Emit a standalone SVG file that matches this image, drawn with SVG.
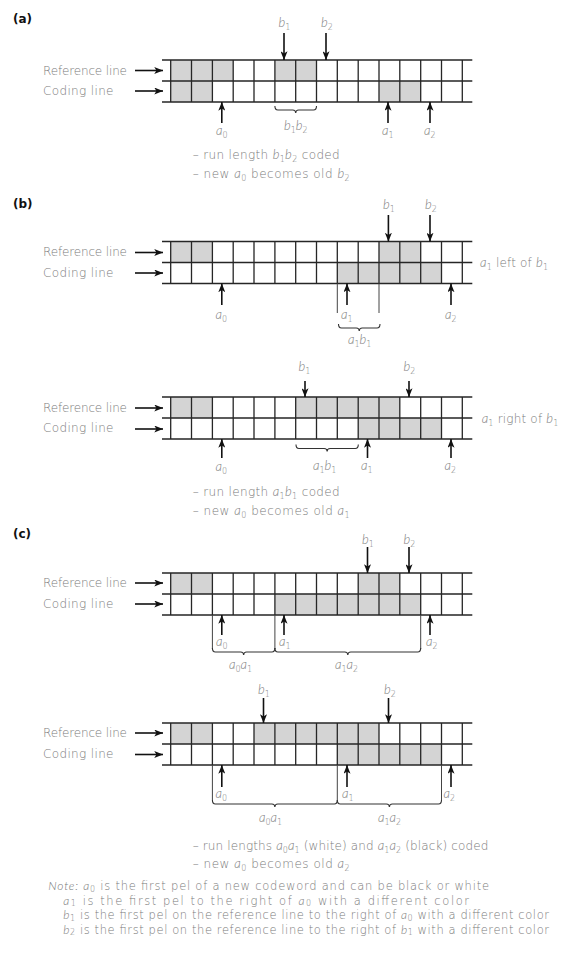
<svg xmlns="http://www.w3.org/2000/svg" xmlns:xlink="http://www.w3.org/1999/xlink" width="566" height="958" viewBox="0 0 566 958">
<style>
.t{font-family:"DejaVu Sans",Lato,"Open Sans",sans-serif;font-weight:200;font-size:12px;fill:#7a7a7a}
.n{font-size:11.5px}
.v{font-family:Lato,"DejaVu Sans",sans-serif;font-style:italic;font-weight:300;font-size:13px}
.n .v{font-size:12px}
.s{font-size:8px}
.h{font-family:"DejaVu Sans","Liberation Sans",sans-serif;font-weight:700;font-size:12px;fill:#111}
.g{fill:#d4d4d4}
.gl{fill:none;stroke:#262626;stroke-width:1.3}
.ar{stroke:#111;stroke-width:1.6;fill:none;marker-end:url(#ah)}
.br{fill:none;stroke:#333;stroke-width:1.1}
.vl{stroke:#444;stroke-width:1}
</style>
<defs>
<marker id="ah" viewBox="0 0 10 8" refX="10" refY="4" markerWidth="9" markerHeight="7" orient="auto" markerUnits="userSpaceOnUse">
<path d="M0,0 L10,4 L0,8 L2.5,4 z" fill="#111"/>
</marker>
<g id="grid">
<path class="gl" d="M162,0H472.3M162,21H472.3M162,42H472.3M170.7,0V42M191.5,0V42M212.4,0V42M233.2,0V42M254,0V42M274.9,0V42M295.7,0V42M316.5,0V42M337.3,0V42M358.2,0V42M379,0V42M399.8,0V42M420.7,0V42M441.5,0V42M462.3,0V42"/>
</g>
</defs>
<rect width="566" height="958" fill="#fff"/>

<!-- ===== (a) ===== -->
<g id="panel-a">
<text class="h" x="13" y="23">(a)</text>
<text class="t" x="43" y="74.5" textLength="84">Reference line</text>
<text class="t" x="43" y="95" textLength="70.5">Coding line</text>
<g transform="translate(0,60)">
<rect class="g" x="170.7" y="0" width="62.5" height="21"/>
<rect class="g" x="274.9" y="0" width="41.6" height="21"/>
<rect class="g" x="170.7" y="21" width="41.7" height="21"/>
<rect class="g" x="379" y="21" width="41.7" height="21"/>
<use xlink:href="#grid"/>
</g>
<text class="t" x="278.5" y="27"><tspan class="v">b</tspan><tspan class="s" dy="3">1</tspan></text>
<text class="t" x="321" y="27"><tspan class="v">b</tspan><tspan class="s" dy="3">2</tspan></text>
<text class="t" x="216" y="135"><tspan class="v">a</tspan><tspan class="s" dy="3">0</tspan></text>
<text class="t" x="382" y="135"><tspan class="v">a</tspan><tspan class="s" dy="3">1</tspan></text>
<text class="t" x="424" y="135"><tspan class="v">a</tspan><tspan class="s" dy="3">2</tspan></text>
<text class="t" x="284" y="130"><tspan class="v">b</tspan><tspan class="s" dy="3">1</tspan><tspan class="v" dy="-3">b</tspan><tspan class="s" dy="3">2</tspan></text>
<text class="t" x="192.7" y="159" textLength="147">– run length <tspan class="v">b</tspan><tspan class="s" dy="3">1</tspan><tspan class="v" dy="-3">b</tspan><tspan class="s" dy="3">2</tspan><tspan dy="-3"> coded</tspan></text>
<text class="t" x="192.7" y="178" textLength="157">– new <tspan class="v">a</tspan><tspan class="s" dy="3">0</tspan><tspan dy="-3"> becomes old </tspan><tspan class="v">b</tspan><tspan class="s" dy="3">2</tspan></text>
</g>

<!-- ===== (b) left ===== -->
<g id="panel-b1">
<text class="h" x="13" y="208">(b)</text>
<text class="t" x="43" y="256" textLength="84">Reference line</text>
<text class="t" x="43" y="276.5" textLength="70.5">Coding line</text>
<g transform="translate(0,241.5)">
<rect class="g" x="170.7" y="0" width="41.7" height="21"/>
<rect class="g" x="379" y="0" width="41.7" height="21"/>
<rect class="g" x="337.3" y="21" width="104.2" height="21"/>
<use xlink:href="#grid"/>
</g>
<text class="t" x="383" y="209"><tspan class="v">b</tspan><tspan class="s" dy="3">1</tspan></text>
<text class="t" x="425" y="209"><tspan class="v">b</tspan><tspan class="s" dy="3">2</tspan></text>
<text class="t" x="480" y="267" textLength="68"><tspan class="v">a</tspan><tspan class="s" dy="3">1</tspan><tspan dy="-3"> left of </tspan><tspan class="v">b</tspan><tspan class="s" dy="3">1</tspan></text>
<text class="t" x="215.5" y="319"><tspan class="v">a</tspan><tspan class="s" dy="3">0</tspan></text>
<text class="t" x="341" y="319"><tspan class="v">a</tspan><tspan class="s" dy="3">1</tspan></text>
<text class="t" x="445" y="319"><tspan class="v">a</tspan><tspan class="s" dy="3">2</tspan></text>
<text class="t" x="348" y="344"><tspan class="v">a</tspan><tspan class="s" dy="3">1</tspan><tspan class="v" dy="-3">b</tspan><tspan class="s" dy="3">1</tspan></text>
</g>

<!-- ===== (b) right ===== -->
<g id="panel-b2">
<text class="t" x="43" y="411.5" textLength="84">Reference line</text>
<text class="t" x="43" y="432" textLength="70.5">Coding line</text>
<g transform="translate(0,397)">
<rect class="g" x="170.7" y="0" width="41.7" height="21"/>
<rect class="g" x="295.7" y="0" width="104.1" height="21"/>
<rect class="g" x="358.2" y="21" width="83.3" height="21"/>
<use xlink:href="#grid"/>
</g>
<text class="t" x="298.5" y="371"><tspan class="v">b</tspan><tspan class="s" dy="3">1</tspan></text>
<text class="t" x="403.5" y="371"><tspan class="v">b</tspan><tspan class="s" dy="3">2</tspan></text>
<text class="t" x="481.7" y="423" textLength="76.6"><tspan class="v">a</tspan><tspan class="s" dy="3">1</tspan><tspan dy="-3"> right of </tspan><tspan class="v">b</tspan><tspan class="s" dy="3">1</tspan></text>
<text class="t" x="215.5" y="471"><tspan class="v">a</tspan><tspan class="s" dy="3">0</tspan></text>
<text class="t" x="361" y="470"><tspan class="v">a</tspan><tspan class="s" dy="3">1</tspan></text>
<text class="t" x="444.5" y="470"><tspan class="v">a</tspan><tspan class="s" dy="3">2</tspan></text>
<text class="t" x="313" y="470"><tspan class="v">a</tspan><tspan class="s" dy="3">1</tspan><tspan class="v" dy="-3">b</tspan><tspan class="s" dy="3">1</tspan></text>
<text class="t" x="192.7" y="496" textLength="147">– run length <tspan class="v">a</tspan><tspan class="s" dy="3">1</tspan><tspan class="v" dy="-3">b</tspan><tspan class="s" dy="3">1</tspan><tspan dy="-3"> coded</tspan></text>
<text class="t" x="192.7" y="515" textLength="157">– new <tspan class="v">a</tspan><tspan class="s" dy="3">0</tspan><tspan dy="-3"> becomes old </tspan><tspan class="v">a</tspan><tspan class="s" dy="3">1</tspan></text>
</g>

<!-- ===== (c) upper ===== -->
<g id="panel-c1">
<text class="h" x="13" y="538">(c)</text>
<text class="t" x="43" y="587" textLength="84">Reference line</text>
<text class="t" x="43" y="607.5" textLength="70.5">Coding line</text>
<g transform="translate(0,573)">
<rect class="g" x="170.7" y="0" width="41.7" height="21"/>
<rect class="g" x="358.2" y="0" width="41.6" height="21"/>
<rect class="g" x="274.9" y="21" width="145.8" height="21"/>
<use xlink:href="#grid"/>
</g>
<text class="t" x="362" y="544"><tspan class="v">b</tspan><tspan class="s" dy="3">1</tspan></text>
<text class="t" x="403.5" y="544"><tspan class="v">b</tspan><tspan class="s" dy="3">2</tspan></text>
<text class="t" x="216" y="646"><tspan class="v">a</tspan><tspan class="s" dy="3">0</tspan></text>
<text class="t" x="279" y="646"><tspan class="v">a</tspan><tspan class="s" dy="3">1</tspan></text>
<text class="t" x="426" y="646"><tspan class="v">a</tspan><tspan class="s" dy="3">2</tspan></text>
<text class="t" x="229" y="669"><tspan class="v">a</tspan><tspan class="s" dy="3">0</tspan><tspan class="v" dy="-3">a</tspan><tspan class="s" dy="3">1</tspan></text>
<text class="t" x="335" y="669"><tspan class="v">a</tspan><tspan class="s" dy="3">1</tspan><tspan class="v" dy="-3">a</tspan><tspan class="s" dy="3">2</tspan></text>
</g>

<!-- ===== (c) lower ===== -->
<g id="panel-c2">
<text class="t" x="43" y="737" textLength="84">Reference line</text>
<text class="t" x="43" y="758" textLength="70.5">Coding line</text>
<g transform="translate(0,723)">
<rect class="g" x="170.7" y="0" width="41.7" height="21"/>
<rect class="g" x="254" y="0" width="125" height="21"/>
<rect class="g" x="337.3" y="21" width="104.2" height="21"/>
<use xlink:href="#grid"/>
</g>
<text class="t" x="258" y="694"><tspan class="v">b</tspan><tspan class="s" dy="3">1</tspan></text>
<text class="t" x="384" y="694"><tspan class="v">b</tspan><tspan class="s" dy="3">2</tspan></text>
<text class="t" x="215.5" y="798"><tspan class="v">a</tspan><tspan class="s" dy="3">0</tspan></text>
<text class="t" x="342" y="798"><tspan class="v">a</tspan><tspan class="s" dy="3">1</tspan></text>
<text class="t" x="443.5" y="798"><tspan class="v">a</tspan><tspan class="s" dy="3">2</tspan></text>
<text class="t" x="259" y="822"><tspan class="v">a</tspan><tspan class="s" dy="3">0</tspan><tspan class="v" dy="-3">a</tspan><tspan class="s" dy="3">1</tspan></text>
<text class="t" x="378" y="822"><tspan class="v">a</tspan><tspan class="s" dy="3">1</tspan><tspan class="v" dy="-3">a</tspan><tspan class="s" dy="3">2</tspan></text>
<text class="t" x="192.7" y="850" textLength="295.6">– run lengths <tspan class="v">a</tspan><tspan class="s" dy="3">0</tspan><tspan class="v" dy="-3">a</tspan><tspan class="s" dy="3">1</tspan><tspan dy="-3"> (white) and </tspan><tspan class="v">a</tspan><tspan class="s" dy="3">1</tspan><tspan class="v" dy="-3">a</tspan><tspan class="s" dy="3">2</tspan><tspan dy="-3"> (black) coded</tspan></text>
<text class="t" x="192.7" y="868" textLength="157">– new <tspan class="v">a</tspan><tspan class="s" dy="3">0</tspan><tspan dy="-3"> becomes old </tspan><tspan class="v">a</tspan><tspan class="s" dy="3">2</tspan></text>
</g>

<!-- ===== Note ===== -->
<g id="note">
<text class="t n" x="48.3" y="890" textLength="440.7"><tspan class="v">Note:</tspan> <tspan class="v">a</tspan><tspan class="s" dy="1.5">0</tspan><tspan dy="-1.5"> is the first pel of a new codeword and can be black or white</tspan></text>
<text class="t n" x="63.3" y="904.5" textLength="405.7"><tspan class="v">a</tspan><tspan class="s" dy="1.5">1</tspan><tspan dy="-1.5"> is the first pel to the right of </tspan><tspan class="v">a</tspan><tspan class="s" dy="1.5">0</tspan><tspan dy="-1.5"> with a different color</tspan></text>
<text class="t n" x="63.3" y="919" textLength="485.7"><tspan class="v">b</tspan><tspan class="s" dy="1.5">1</tspan><tspan dy="-1.5"> is the first pel on the reference line to the right of </tspan><tspan class="v">a</tspan><tspan class="s" dy="1.5">0</tspan><tspan dy="-1.5"> with a different color</tspan></text>
<text class="t n" x="63.3" y="933.5" textLength="485.7"><tspan class="v">b</tspan><tspan class="s" dy="1.5">2</tspan><tspan dy="-1.5"> is the first pel on the reference line to the right of </tspan><tspan class="v">b</tspan><tspan class="s" dy="1.5">1</tspan><tspan dy="-1.5"> with a different color</tspan></text>
</g>

<!-- ===== connectors ===== -->
<g id="connectors">
<line class="ar" x1="135" y1="70.5" x2="163" y2="70.5"/>
<line class="ar" x1="135" y1="91" x2="163" y2="91"/>
<line class="ar" x1="135" y1="252.5" x2="163" y2="252.5"/>
<line class="ar" x1="135" y1="273" x2="163" y2="273"/>
<line class="ar" x1="135" y1="408" x2="163" y2="408"/>
<line class="ar" x1="135" y1="429" x2="163" y2="429"/>
<line class="ar" x1="135" y1="583" x2="163" y2="583"/>
<line class="ar" x1="135" y1="604" x2="163" y2="604"/>
<line class="ar" x1="135" y1="733" x2="163" y2="733"/>
<line class="ar" x1="135" y1="754.5" x2="163" y2="754.5"/>
<!-- (a) -->
<line class="ar" x1="284" y1="33" x2="284" y2="60"/>
<line class="ar" x1="326" y1="33" x2="326" y2="60"/>
<line class="ar" x1="221.8" y1="123" x2="221.8" y2="102"/>
<line class="ar" x1="388" y1="123" x2="388" y2="102"/>
<line class="ar" x1="430" y1="123" x2="430" y2="102"/>
<path class="br" d="M274.9,106 Q274.9,110 277.9,110 H292.7 Q295.7,110 295.7,113 Q295.7,110 298.7,110 H313.5 Q316.5,110 316.5,106"/>
<!-- (b) left -->
<line class="ar" x1="388.4" y1="215" x2="388.4" y2="241.5"/>
<line class="ar" x1="430" y1="215" x2="430" y2="241.5"/>
<line class="ar" x1="221.8" y1="305" x2="221.8" y2="283.5"/>
<line class="ar" x1="347" y1="305" x2="347" y2="283.5"/>
<line class="ar" x1="451" y1="305" x2="451" y2="283.5"/>
<line class="vl" x1="337.3" y1="283.5" x2="337.3" y2="313"/>
<line class="vl" x1="379" y1="283.5" x2="379" y2="313"/>
<path class="br" d="M338.5,324 Q338.5,328 341.5,328 H356.25 Q359.25,328 359.25,331 Q359.25,328 362.25,328 H377 Q380,328 380,324"/>
<!-- (b) right -->
<line class="ar" x1="305" y1="381" x2="305" y2="397"/>
<line class="ar" x1="409" y1="381" x2="409" y2="397"/>
<line class="ar" x1="221.8" y1="458" x2="221.8" y2="439"/>
<line class="ar" x1="367.5" y1="458" x2="367.5" y2="439"/>
<line class="ar" x1="451" y1="458" x2="451" y2="439"/>
<path class="br" d="M296,444.5 Q296,448.5 299,448.5 H324.15 Q327.15,448.5 327.15,451.5 Q327.15,448.5 330.15,448.5 H355.3 Q358.3,448.5 358.3,444.5"/>
<!-- (c) upper -->
<line class="ar" x1="367.5" y1="547" x2="367.5" y2="573"/>
<line class="ar" x1="409" y1="547" x2="409" y2="573"/>
<line class="ar" x1="221.8" y1="635" x2="221.8" y2="615"/>
<line class="ar" x1="284" y1="635" x2="284" y2="615"/>
<line class="ar" x1="430" y1="635" x2="430" y2="615"/>
<line class="vl" x1="212.4" y1="615" x2="212.4" y2="649"/>
<line class="vl" x1="274.9" y1="615" x2="274.9" y2="649"/>
<line class="vl" x1="420.7" y1="615" x2="420.7" y2="649"/>
<path class="br" d="M212.4,648 Q212.4,652 215.4,652 H240.65 Q243.65,652 243.65,655 Q243.65,652 246.65,652 H271.9 Q274.9,652 274.9,648"/>
<path class="br" d="M274.9,648 Q274.9,652 277.9,652 H344.8 Q347.8,652 347.8,655 Q347.8,652 350.8,652 H417.7 Q420.7,652 420.7,648"/>
<!-- (c) lower -->
<line class="ar" x1="263.5" y1="698" x2="263.5" y2="723"/>
<line class="ar" x1="388.5" y1="698" x2="388.5" y2="723"/>
<line class="ar" x1="221.8" y1="787" x2="221.8" y2="765"/>
<line class="ar" x1="347" y1="787" x2="347" y2="765"/>
<line class="ar" x1="451" y1="787" x2="451" y2="765"/>
<line class="vl" x1="212.4" y1="765" x2="212.4" y2="800"/>
<line class="vl" x1="337.3" y1="765" x2="337.3" y2="800"/>
<line class="vl" x1="441.5" y1="765" x2="441.5" y2="800"/>
<path class="br" d="M212.4,800 Q212.4,804 215.4,804 H271.85 Q274.85,804 274.85,807 Q274.85,804 277.85,804 H334.3 Q337.3,804 337.3,800"/>
<path class="br" d="M337.3,800 Q337.3,804 340.3,804 H386.4 Q389.4,804 389.4,807 Q389.4,804 392.4,804 H438.5 Q441.5,804 441.5,800"/>
</g>
</svg>
